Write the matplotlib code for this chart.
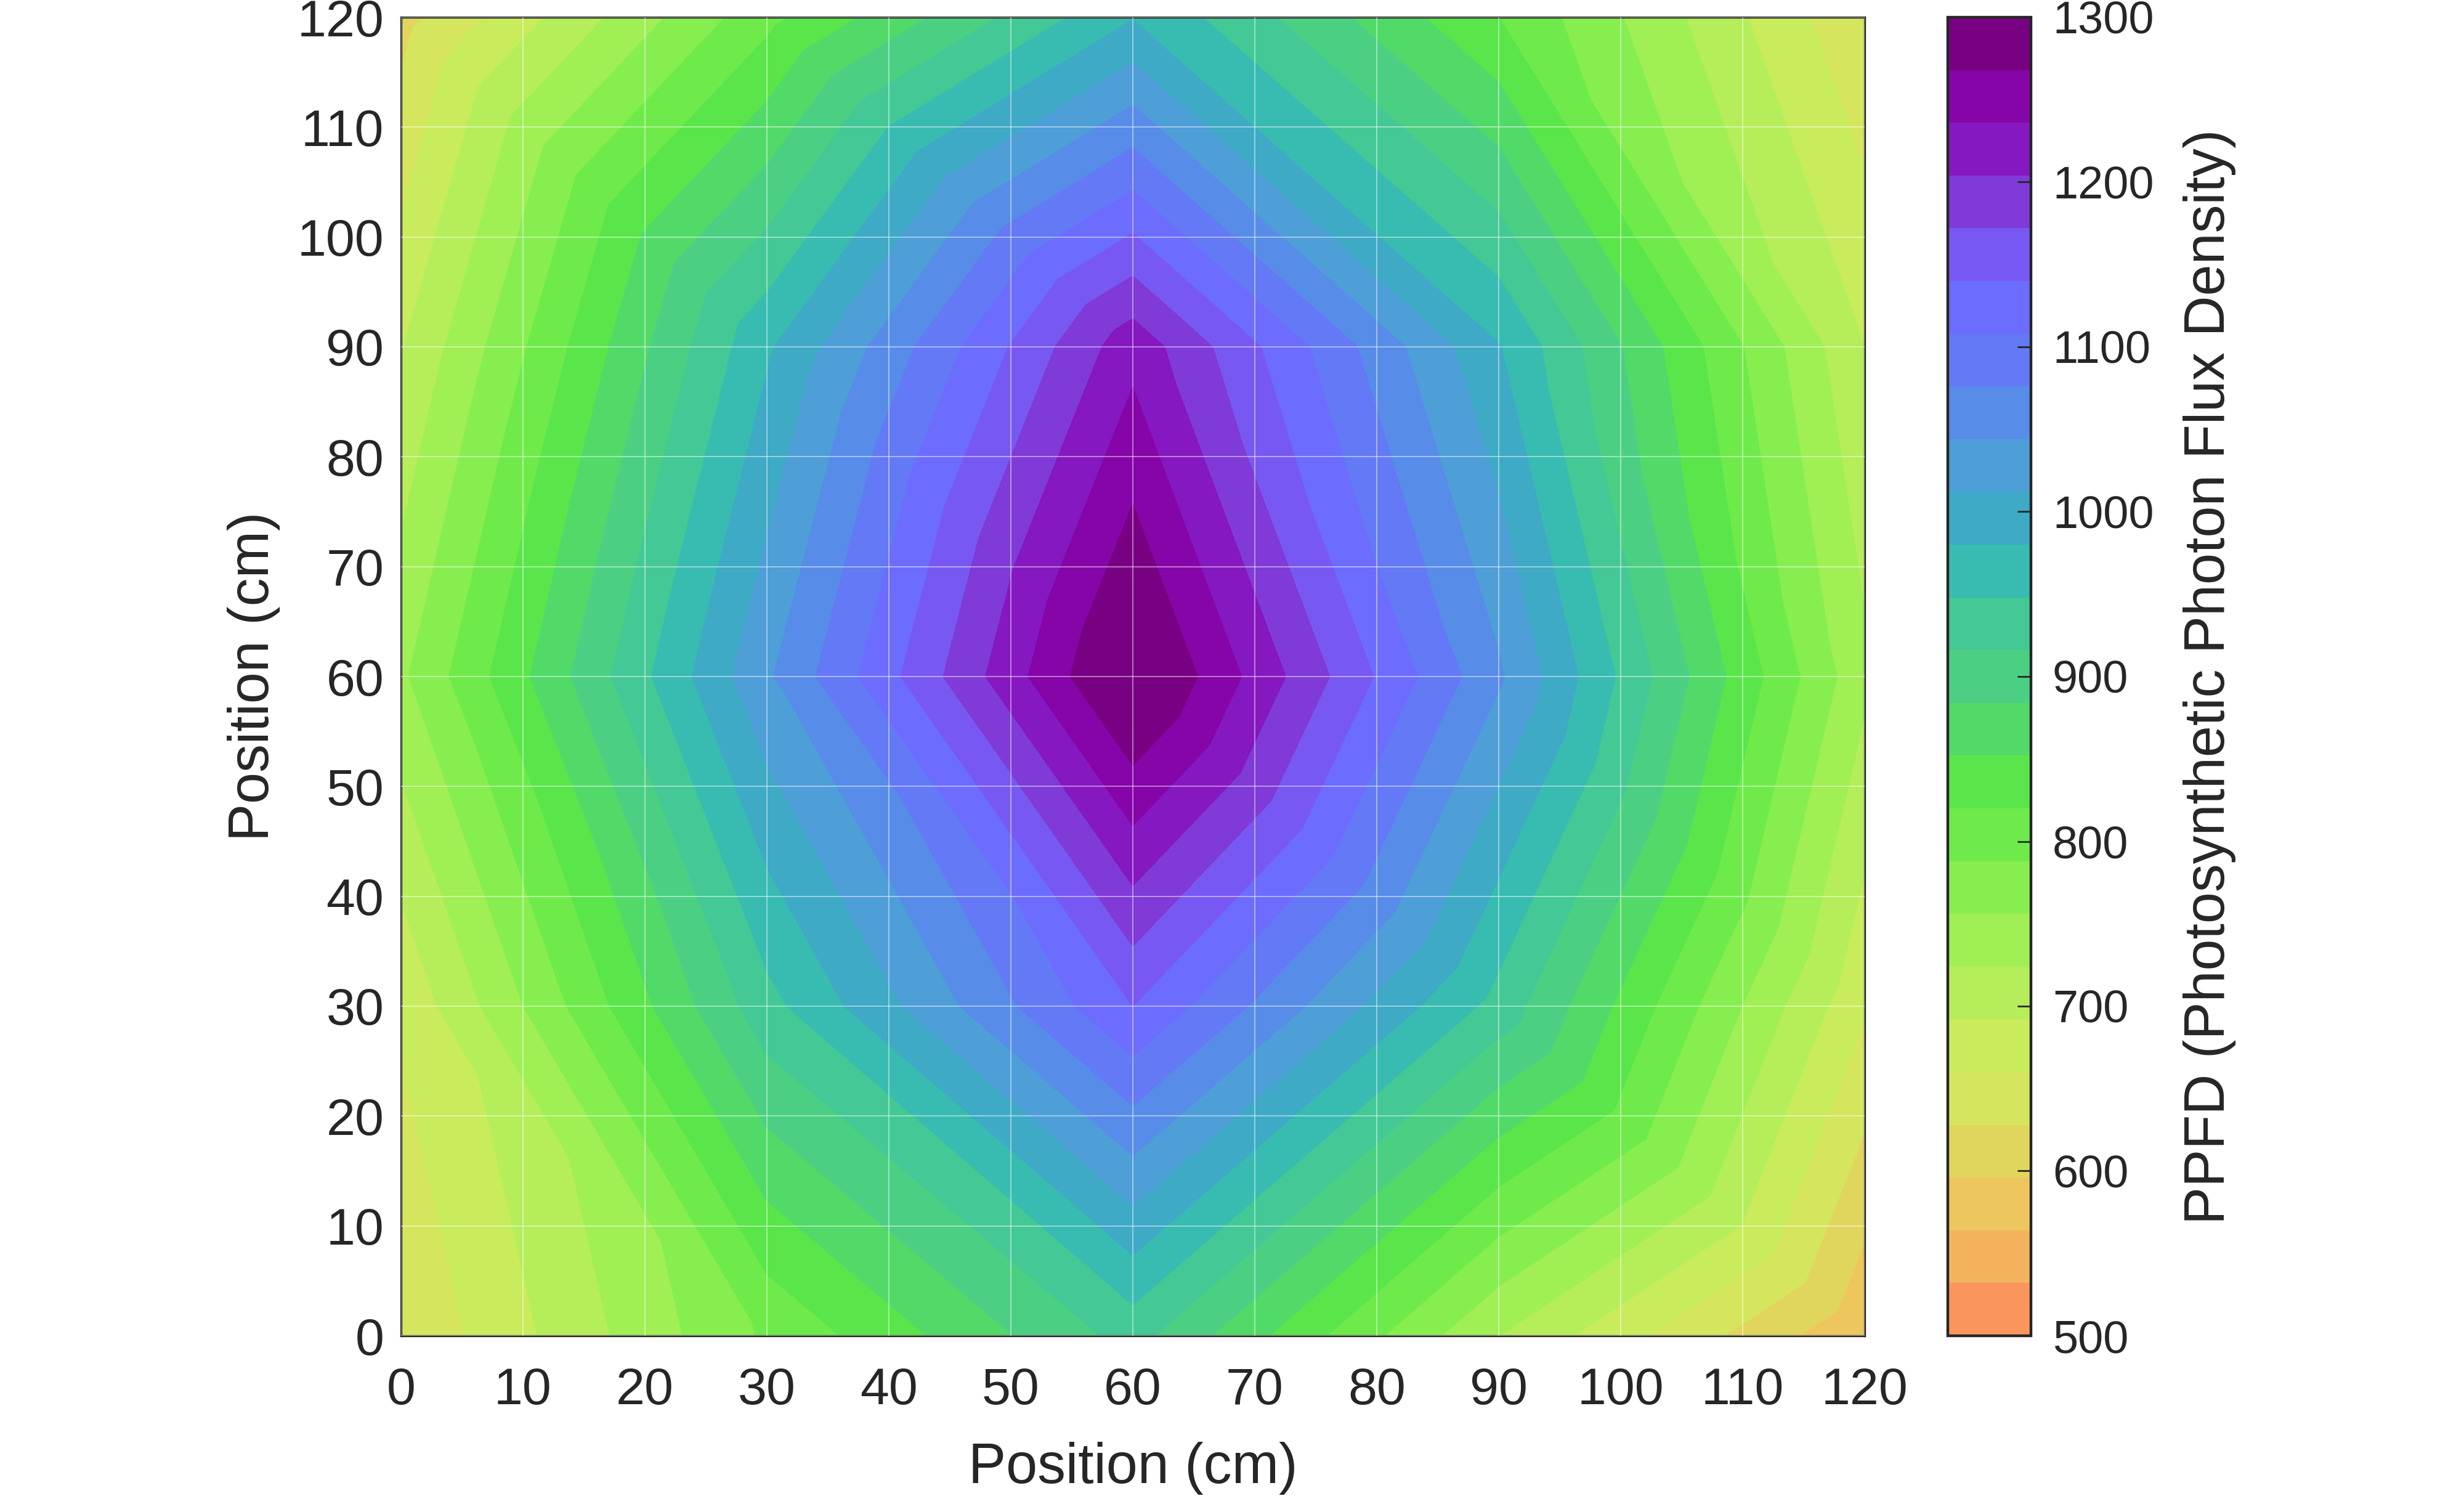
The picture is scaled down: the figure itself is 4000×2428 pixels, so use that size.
import numpy as np
import matplotlib
matplotlib.use("Agg")
import matplotlib.pyplot as plt
import matplotlib.tri as mtri
from matplotlib.colors import ListedColormap, BoundaryNorm
from matplotlib.cm import ScalarMappable

xpos = [0, 30, 60, 90, 120]
ypos = [0, 30, 60, 90, 120]
ppfd_y0 = [632, 793, 928, 724, 568]
ppfd_y30 = [665, 937, 1140, 936, 665]
ppfd_y60 = [750, 1039, 1315, 1049, 732]
ppfd_y90 = [690, 975, 1225, 982, 692]
ppfd_y120 = [616, 810, 978, 820, 632]

band_colors = ["#FA965C", "#F4B25E", "#EEC65E", "#E0D65E", "#D5E65E",
               "#C9EC5C", "#B5EE5A", "#A0EF55", "#87EE50", "#6EEB4A",
               "#5AE64A", "#52DA68", "#4BD083", "#43C896", "#38BBB0",
               "#3EAAC6", "#4E9ED8", "#578CE8", "#6379F5", "#6C6CFF",
               "#7858F2", "#7F3AD8", "#8518C0", "#8505A8", "#780082"]
axis_ticks = list(range(0, 121, 10))
cbar_ticks = [500, 600, 700, 800, 900, 1000, 1100, 1200, 1300]

plt.rcParams["font.family"] = ["Liberation Sans", "DejaVu Sans"]
DARK = "#262626"
W, H = 4000, 2428

fig = plt.figure(figsize=(W / 400, H / 400), dpi=400)
ax = fig.add_axes([651 / W, 1 - 2168 / H, (3027 - 651) / W, (2168 - 28) / H])
cax = fig.add_axes([3162 / W, 1 - 2168 / H, (3297 - 3162) / W, (2168 - 28) / H])

# every cell is split top-left to bottom-right, the kinks in the bands show that
X, Y = np.meshgrid(xpos, ypos)
Z = np.array([ppfd_y0, ppfd_y30, ppfd_y60, ppfd_y90, ppfd_y120], dtype=float)
n = len(xpos)
triangles = []
for j in range(n - 1):
    for i in range(n - 1):
        a = j * n + i
        b = a + 1
        c = a + n
        d = c + 1
        triangles.append([a, b, c])
        triangles.append([b, d, c])
tri = mtri.Triangulation(X.ravel(), Y.ravel(), triangles)

levels = np.linspace(500, 1300, len(band_colors) + 1)
cmap = ListedColormap(band_colors)
cmap.set_over(band_colors[-1])
cmap.set_under(band_colors[0])
norm = BoundaryNorm(levels, cmap.N)

cs = ax.tricontourf(tri, Z.ravel(), levels=levels, cmap=cmap, norm=norm, extend="both")
cs.set_edgecolor("face")
cs.set_linewidth(0.15)

ax.set_xlim(0, 120)
ax.set_ylim(0, 120)
ax.set_xticks(axis_ticks)
ax.set_yticks(axis_ticks)
ax.grid(True, color="white", lw=0.3, alpha=0.55)
ax.set_axisbelow(False)
ax.tick_params(direction="in", length=0, labelsize=15.2, colors=DARK, pad=5)
ax.tick_params(axis="x", pad=9)
for sp in ax.spines.values():
    sp.set_color(DARK)
    sp.set_linewidth(0.6)
ax.set_xlabel("Position (cm)", fontsize=16.5, color=DARK)
ax.set_ylabel("Position (cm)", fontsize=16.5, color=DARK)
ax.xaxis.set_label_coords(0.5, -0.0802)
ax.yaxis.set_label_coords(-0.0825, 0.5)

cb = fig.colorbar(ScalarMappable(norm=norm, cmap=cmap), cax=cax, ticks=cbar_ticks,
                  spacing="proportional", drawedges=False)
cb.ax.tick_params(direction="in", length=4, width=0.5, labelsize=13.3, colors=DARK, pad=6.3)
cb.ax.minorticks_off()
cb.outline.set_edgecolor(DARK)
cb.outline.set_linewidth(0.8)
cb.set_label("PPFD (Photosynthetic Photon Flux Density)", fontsize=16.5, color=DARK)
cb.ax.yaxis.set_label_coords(2.83, 0.5)

fig.savefig("out.png", dpi=400)
